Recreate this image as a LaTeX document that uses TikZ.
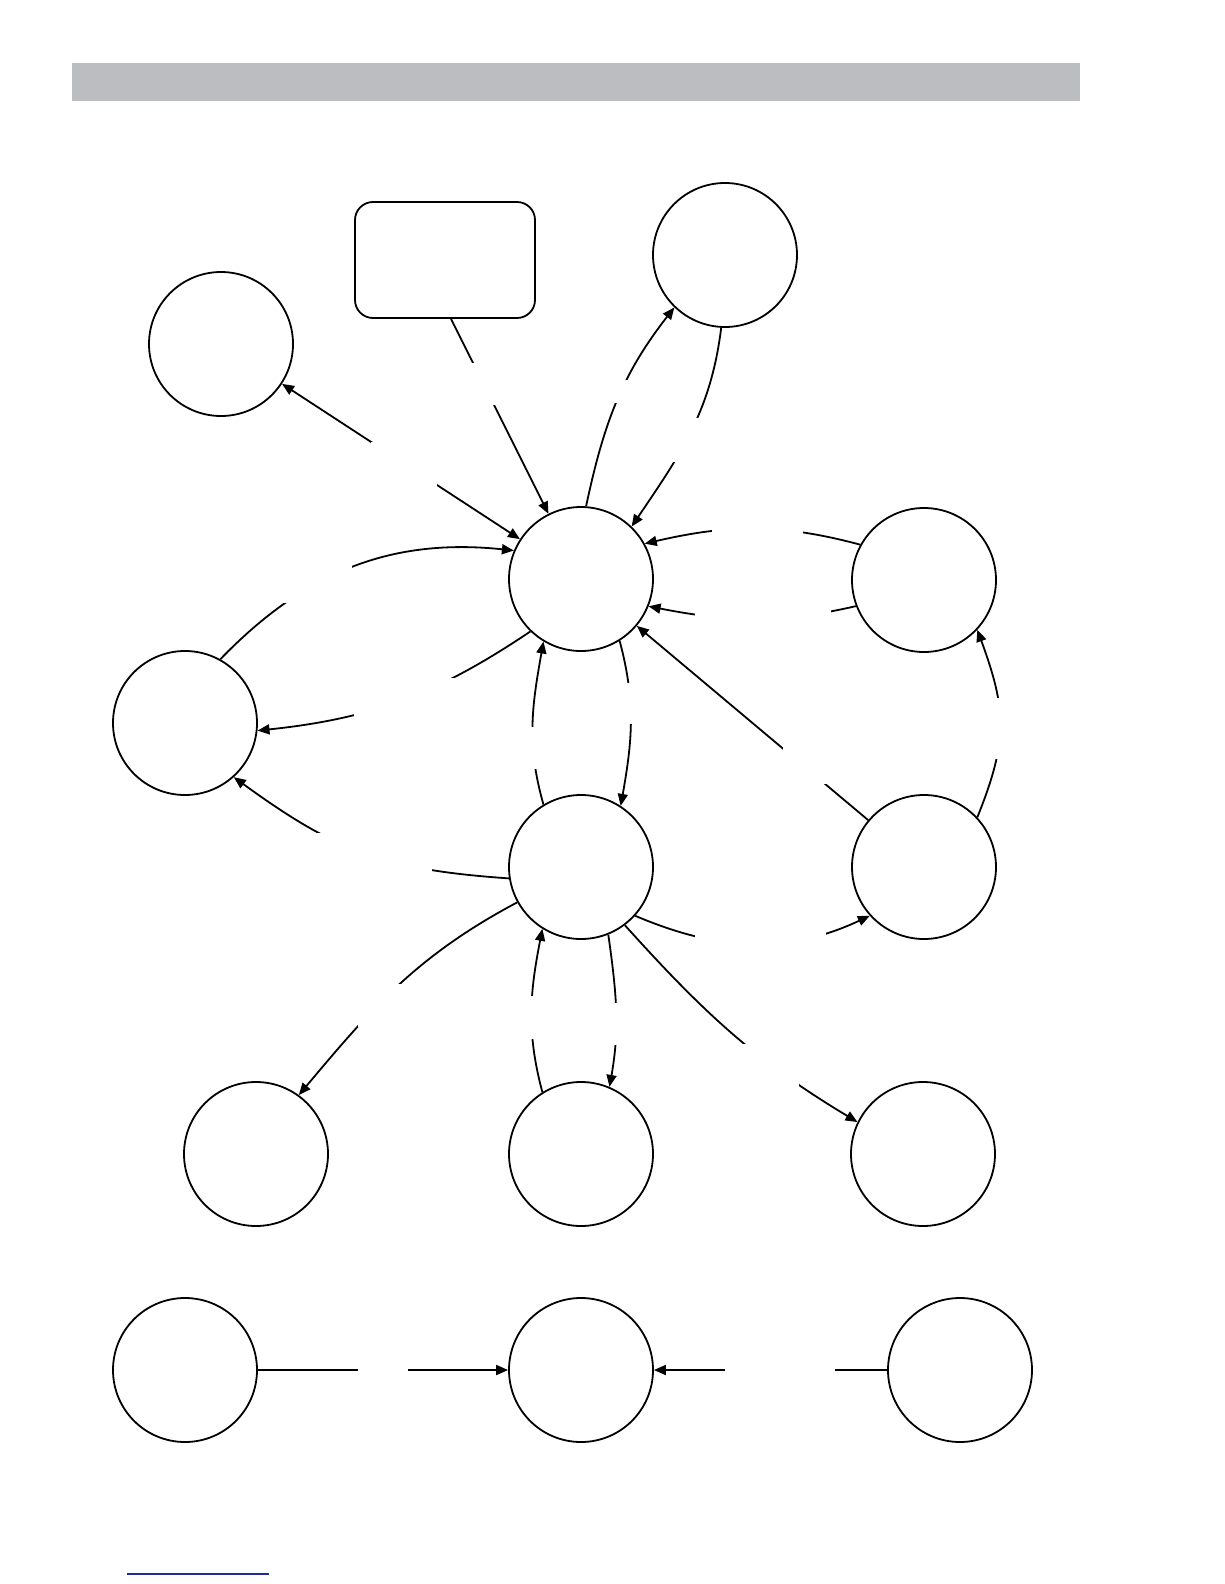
\documentclass[tikz,border=0pt]{standalone}
\usetikzlibrary{arrows.meta}
\definecolor{bargray}{HTML}{BCBDC0}
\definecolor{linkblue}{HTML}{1F2A9C}

\begin{document}
\begin{tikzpicture}[x=1pt, y=-1pt, line width=1.8pt,
  state/.style={circle, draw, minimum size=144pt, inner sep=0pt},
  note/.style={draw, rounded corners=18pt, minimum width=180pt, minimum height=116pt},
  gap/.style={fill=white, inner sep=0pt},
  >={Triangle[length=12pt, width=10pt]}]
  \useasboundingbox (0,0) rectangle (1224,1584);
  \fill[bargray] (72,63) rectangle (1080,101);
  \draw[linkblue, line width=1.2pt] (127,1574) -- (269,1574);

  % states
  \foreach \n/\x/\y in {A/221/344, B/725/255, C/581/579, D/924/580, E/185/723,
                        F/581/867, G/924/867, H/256/1154, I/581/1154, J/923/1154,
                        K/185/1370, L/581/1370, M/960/1370}
    \node[state] (\n) at (\x,\y) {};
  \node[note] (box) at (445,260) {};

  % transitions
  \draw[<->] (A) -- (C);
  \draw[->] ([xshift=6pt]box.south) -- (C);
  \draw[->] (C.86) to[out=78, in=232] (B.226);
  \draw[->] (B.267) to[out=263, in=56] (C.46);
  \draw[->] (D.151) to[out=165, in=13] (C.29);
  \draw[->] (D.201) to[out=193, in=-11] (C.-22);
  \draw[->] (G) -- (C);
  \draw[->] (G.43) to[out=68, in=-70, looseness=1.15] (D.-43);
  \draw[->] (E.61) to[out=46, in=174] (C.157);
  \draw[->] (C.226) to[out=214, in=6] (E.-6);
  \draw[->] (F.189) to[out=176, in=-36, looseness=1.1] (E.-48);
  \draw[->] (F.121) to[out=106, in=260] (C.239);
  \draw[->] (C.-58) to[out=-75, in=80] (F.57);
  \draw[->] (F.209) to[out=208, in=50] (H.54);
  \draw[->] (I.122) to[out=105, in=259] (F.238);
  \draw[->] (F.-68) to[out=-82, in=80] (I.67);
  \draw[->] (F.-53) to[out=-48, in=149] (J.154);
  \draw[->] (F.-42) to[out=-23, in=205] (G.222);
  \draw[->] (K) -- (L);
  \draw[->] (M) -- (L);

  % label gaps
  \foreach \n/\x/\y/\w/\h in {1/404/464/66/44, 2/483/384/40/42, 3/621/391/36/23,
      4/687/440/40/44, 5/757/529/91/30, 6/763/614/136/24, 7/807/762/48/43,
      8/1003/728/30/61, 9/314/581/76/43, 10/408/699/108/43, 11/374/853/116/40,
      12/531/748/30/42, 13/634/703/30/41, 14/379/1005/43/43, 15/529/1017/30/43,
      16/618/1024/30/42, 17/770/1065/57/43, 18/760/940/131/24,
      19/383/1370/50/20, 20/780/1370/110/20}
    \node[gap, minimum width=\w pt, minimum height=\h pt] (gap\n) at (\x,\y) {};
\end{tikzpicture}
\end{document}
